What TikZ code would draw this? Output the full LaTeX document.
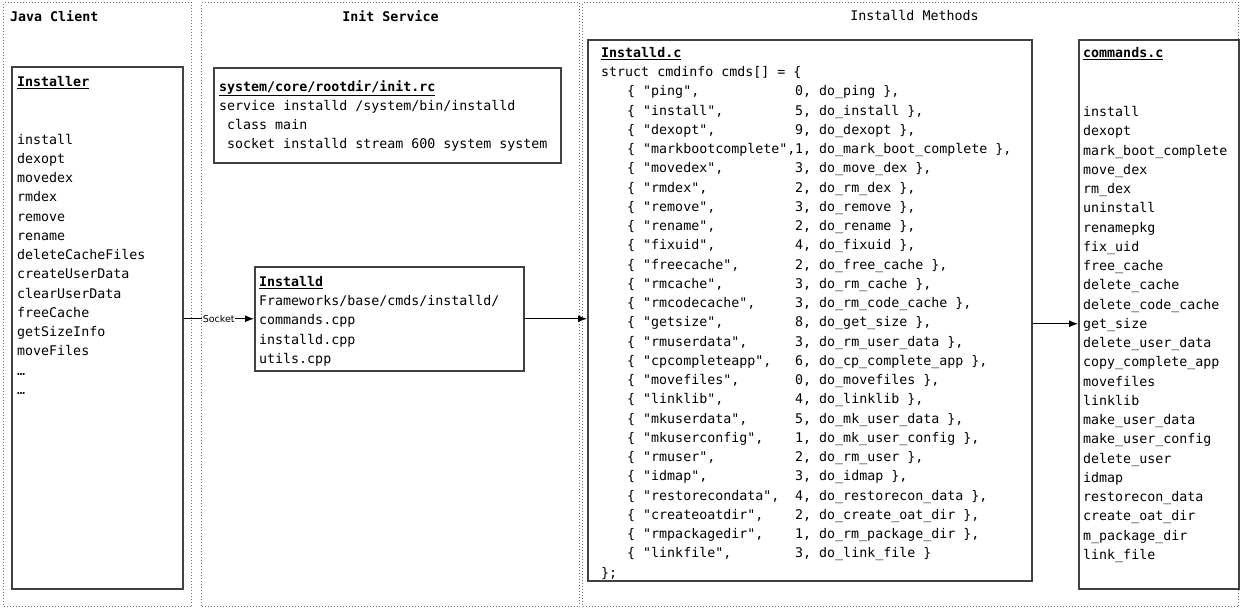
\documentclass[tikz,border=0pt]{standalone}
\usepackage{fontspec}
\setmonofont{DejaVu Sans Mono}
\setsansfont{DejaVu Sans}
\usepackage{tikz}
\usetikzlibrary{arrows,arrows.meta,positioning}

\newcommand\codefnt{\fontsize{13.3pt}{19.25pt}\selectfont\ttfamily}
\newcommand\boxtitle[1]{\underline{\textbf{#1}}}
\newcommand\cmdrow[3]{\hspace*{26pt}\makebox[168pt][l]{\{ "#1",}#2, #3 \}}

\begin{document}
\begin{tikzpicture}[
    x=1pt, y=-1pt,
    lane/.style={draw=black!55, dotted, line width=1pt, anchor=north west, inner sep=0pt},
    srcbox/.style={draw=black!75, line width=1.5pt, anchor=north west, inner sep=0pt},
    code/.style={inner sep=0pt, align=left, font=\codefnt},
    lanetitle/.style={inner sep=0pt, font=\codefnt},
    conn/.style={-{Latex[length=9pt,width=7pt]}, line width=1pt, black},
    sock/.style={fill=white, inner sep=0.5pt, font=\fontsize{9.5pt}{10pt}\selectfont\sffamily}
]
\useasboundingbox (0,0) rectangle (1240,608);

% lanes
\node[lane, minimum width=188pt, minimum height=604pt] (java) at (3,2) {};
\node[lane, minimum width=378pt, minimum height=604pt] (init) at (201,2) {};
\node[lane, minimum width=656pt, minimum height=604pt] (methods) at (582,2) {};

\node[lanetitle, font=\codefnt\bfseries, below right=8pt and 7pt of java.north west] (javatitle) {Java Client};
\node[lanetitle, font=\codefnt\bfseries, below=8pt of init.north] (inittitle) {Init Service};
\node[lanetitle, below=8pt of methods.north, xshift=4pt] (methodstitle) {Installd Methods};

% boxes
\node[srcbox, minimum width=171pt, minimum height=522pt] (installer) at (11,66) {};
\node[srcbox, minimum width=347pt, minimum height=95pt] (initrc) at (213,67) {};
\node[srcbox, minimum width=269pt, minimum height=104pt] (installd) at (254,266) {};
\node[srcbox, minimum width=444pt, minimum height=541pt] (installdc) at (587,39) {};
\node[srcbox, minimum width=160pt, minimum height=549pt] (cmds) at (1078,39) {};

% box contents
\node[code, below right=10pt and 6pt of installer.north west] (installertext) {%
\boxtitle{Installer}\\[38.5pt]
install\\ dexopt\\ movedex\\ rmdex\\ remove\\ rename\\ deleteCacheFiles\\
createUserData\\ clearUserData\\ freeCache\\ getSizeInfo\\ moveFiles\\ …\\ …};

\node[code, below right=13pt and 6pt of initrc.north west] (initrctext) {%
\boxtitle{system/core/rootdir/init.rc}\\
service installd /system/bin/installd\\
\hspace*{8pt}class main\\
\hspace*{8pt}socket installd stream 600 system system};

\node[code, below right=10pt and 5pt of installd.north west] (installdtext) {%
\boxtitle{Installd}\\
Frameworks/base/cmds/installd/\\
commands.cpp\\
installd.cpp\\
utils.cpp};

\node[code, below right=8pt and 14pt of installdc.north west] (installdctext) {%
\boxtitle{Installd.c}\\
struct cmdinfo cmds[] = \{\\
\cmdrow{ping}{0}{do\_ping},\\
\cmdrow{install}{5}{do\_install},\\
\cmdrow{dexopt}{9}{do\_dexopt},\\
\cmdrow{markbootcomplete}{1}{do\_mark\_boot\_complete},\\
\cmdrow{movedex}{3}{do\_move\_dex},\\
\cmdrow{rmdex}{2}{do\_rm\_dex},\\
\cmdrow{remove}{3}{do\_remove},\\
\cmdrow{rename}{2}{do\_rename},\\
\cmdrow{fixuid}{4}{do\_fixuid},\\
\cmdrow{freecache}{2}{do\_free\_cache},\\
\cmdrow{rmcache}{3}{do\_rm\_cache},\\
\cmdrow{rmcodecache}{3}{do\_rm\_code\_cache},\\
\cmdrow{getsize}{8}{do\_get\_size},\\
\cmdrow{rmuserdata}{3}{do\_rm\_user\_data},\\
\cmdrow{cpcompleteapp}{6}{do\_cp\_complete\_app},\\
\cmdrow{movefiles}{0}{do\_movefiles},\\
\cmdrow{linklib}{4}{do\_linklib},\\
\cmdrow{mkuserdata}{5}{do\_mk\_user\_data},\\
\cmdrow{mkuserconfig}{1}{do\_mk\_user\_config},\\
\cmdrow{rmuser}{2}{do\_rm\_user},\\
\cmdrow{idmap}{3}{do\_idmap},\\
\cmdrow{restorecondata}{4}{do\_restorecon\_data},\\
\cmdrow{createoatdir}{2}{do\_create\_oat\_dir},\\
\cmdrow{rmpackagedir}{1}{do\_rm\_package\_dir},\\
\cmdrow{linkfile}{3}{do\_link\_file}\\
\};};

\node[code, below right=8pt and 5pt of cmds.north west] (cmdstext) {%
\boxtitle{commands.c}\\[40pt]
install\\ dexopt\\ mark\_boot\_complete\\ move\_dex\\ rm\_dex\\ uninstall\\
renamepkg\\ fix\_uid\\ free\_cache\\ delete\_cache\\ delete\_code\_cache\\
get\_size\\ delete\_user\_data\\ copy\_complete\_app\\ movefiles\\ linklib\\
make\_user\_data\\ make\_user\_config\\ delete\_user\\ idmap\\
restorecon\_data\\ create\_oat\_dir\\ m\_package\_dir\\ link\_file};

% connectors
\draw[conn] (installd.west -| installer.east) -- node[sock] (socklabel) {Socket} (installd.west);
\draw[conn] (installd.east) -- (installd.east -| installdc.west);
\coordinate (tap) at ([yshift=-13.5pt]installdc.east);
\draw[conn] (tap) -- (tap -| cmds.west);

\end{tikzpicture}
\end{document}
